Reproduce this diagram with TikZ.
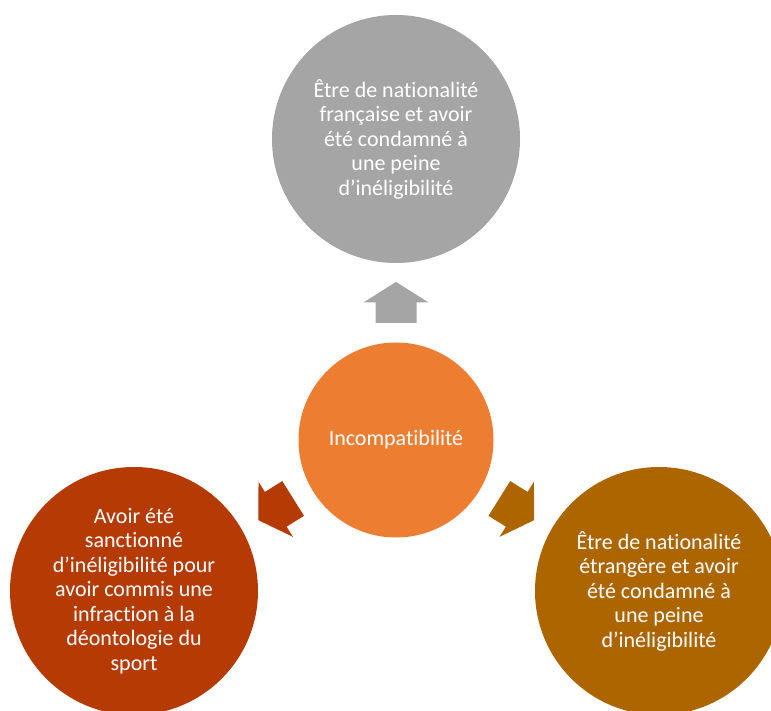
\documentclass[tikz,border=0pt]{standalone}
\usepackage{fontspec}
\setmainfont{Carlito}[Ligatures={NoCommon,NoContextual}]
\usetikzlibrary{calc}
\definecolor{smartgray}{HTML}{A5A5A5}
\definecolor{smartorange}{HTML}{ED7D31}
\definecolor{smartred}{HTML}{B53A03}
\definecolor{smartbrown}{HTML}{AD6500}
\def\blockarrow[#1](#2)(#3){\draw[#1, shift={(#2)}, rotate=#3] (-20.5,-20.5) -- (0,-20.5) -- (0,-32.5) -- (20.5,0) -- (0,32.5) -- (0,20.5) -- (-20.5,20.5) -- cycle;}
\tikzset{
	bubble/.style={circle, draw=none, inner sep=0pt, minimum size=248pt, text=white, align=center, font=\fontsize{22}{24.5}\selectfont},
}

\begin{document}
\begin{tikzpicture}[x=1pt, y=1pt]
			%%%%% START %%%%%
			
			\clip (0, 0) rectangle (771, 710);
			
			\node[bubble, fill=smartorange, minimum size=195pt] (hub) at (396, 270) {Incompatibilité};
			
			\node[bubble, fill=smartgray] (top) at (396, 571) {Être de nationalité\\française et avoir\\été condamné à\\une peine\\d’inéligibilité};
			\node[bubble, fill=smartred] (left) at (134, 119) {Avoir été\\sanctionné\\d’inéligibilité pour\\avoir commis une\\infraction à la\\déontologie du\\sport};
			\node[bubble, fill=smartbrown] (right) at (659, 119) {Être de nationalité\\étrangère et avoir\\été condamné à\\une peine\\d’inéligibilité};
			
			\coordinate (uparrow) at ($(hub)!0.457!(top)$);
			\coordinate (leftarrow) at ($(hub)!0.459!(left)$);
			\coordinate (rightarrow) at ($(hub)!0.459!(right)$);
			
			\blockarrow[fill=smartgray, draw=none](uparrow)(90)
			\blockarrow[fill=smartred, draw=none](leftarrow)(212)
			\blockarrow[fill=smartbrown, draw=none](rightarrow)(-32)
			
			%%%%% END %%%%%
\end{tikzpicture}
\end{document}
